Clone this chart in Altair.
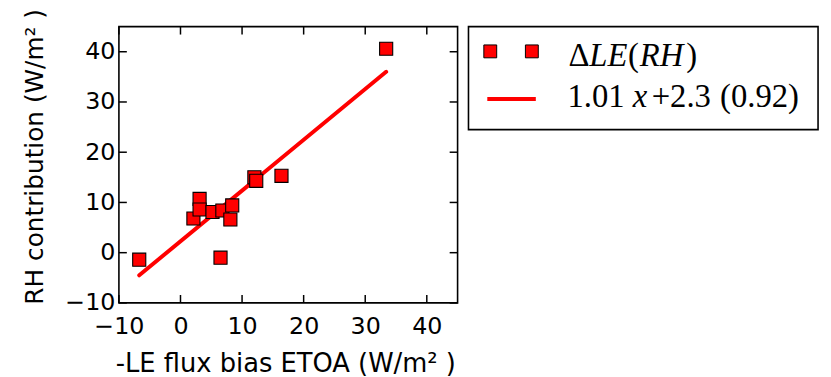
import altair as alt
import pandas as pd

# ---- data ----
x_vals = [-6.7, 33.4, 6.5, 2.1, 3.1, 3.1, 5.2, 6.8, 8.4, 8.1, 12.0, 12.3, 16.4]
y_vals = [-1.4, 40.6, -1.0, 6.8, 10.7, 8.6, 8.1, 8.4, 9.4, 6.6, 15.0, 14.3, 15.3]
fit_x = [-6.7, 33.4]
fit_y = [-4.5, 36.0]
x_ticks = [-10, 0, 10, 20, 30, 40]
y_ticks = [-10, 0, 10, 20, 30, 40]
x_title = "-LE flux bias ETOA (W/m\u00b2 )"
y_title = "RH contribution (W/m\u00b2 )"
legend_pieces_1 = ["\u0394", "LE", "(", "RH", ")"]
legend_pieces_2 = ["1.01", "x", "+2.3", "(0.92)"]

W, H = 342, 279
RED = "#ff0000"

pts = pd.DataFrame({"x": x_vals, "y": y_vals})
fit = pd.DataFrame({"x": fit_x, "y": fit_y})
xt = pd.DataFrame({"t": x_ticks})
yt = pd.DataFrame({"t": y_ticks})

xs = alt.Scale(domain=[-10, 45], nice=False, zero=False)
ys = alt.Scale(domain=[-10, 45], nice=False, zero=False)

x_axis = alt.Axis(values=x_ticks, title=x_title, grid=False, ticks=False, tickSize=0,
                  domain=False, labelFlush=False, labelFont="DejaVu Sans", labelFontSize=24,
                  labelColor="black", labelPadding=12, titleFont="DejaVu Sans",
                  titleFontSize=26, titleFontWeight="normal", titleColor="black",
                  titlePadding=12, titleX=168)
y_axis = alt.Axis(values=y_ticks, title=y_title, grid=False, ticks=False, tickSize=0,
                  domain=False, labelFlush=False, labelFont="DejaVu Sans", labelFontSize=24,
                  labelColor="black", labelPadding=4, titleFont="DejaVu Sans",
                  titleFontSize=25, titleFontWeight="normal", titleColor="black",
                  titlePadding=18, titleY=131)

line = alt.Chart(fit).mark_line(color=RED, strokeWidth=4, strokeCap="round").encode(
    x=alt.X("x:Q", scale=xs, axis=x_axis),
    y=alt.Y("y:Q", scale=ys, axis=y_axis),
)
points = alt.Chart(pts).mark_point(shape="square", filled=True, size=175, fill=RED,
                                   stroke="black", strokeWidth=1.1, opacity=1).encode(
    x=alt.X("x:Q", scale=xs), y=alt.Y("y:Q", scale=ys))

TL = 8
one = alt.Data(values=[{"a": 1}])

frame = alt.Chart(one).mark_rect(
    fill=None, filled=False, stroke="black", strokeWidth=1.6).encode(
    x=alt.value(0), x2=alt.value(W), y=alt.value(0), y2=alt.value(H))
tick_b = alt.Chart(xt).mark_rule(color="black", strokeWidth=1.5).encode(
    x=alt.X("t:Q", scale=xs), y=alt.value(H), y2=alt.value(H - TL))
tick_t = alt.Chart(xt).mark_rule(color="black", strokeWidth=1.5).encode(
    x=alt.X("t:Q", scale=xs), y=alt.value(0), y2=alt.value(TL))
tick_l = alt.Chart(yt).mark_rule(color="black", strokeWidth=1.5).encode(
    y=alt.Y("t:Q", scale=ys), x=alt.value(0), x2=alt.value(TL))
tick_r = alt.Chart(yt).mark_rule(color="black", strokeWidth=1.5).encode(
    y=alt.Y("t:Q", scale=ys), x=alt.value(W), x2=alt.value(W - TL))

leg_box = alt.Chart(one).mark_rect(fill="white", stroke="black", strokeWidth=1.6).encode(
    x=alt.value(353), x2=alt.value(706), y=alt.value(0), y2=alt.value(104))
leg_sq1 = alt.Chart(one).mark_point(shape="square", filled=True, size=169, fill=RED,
                                    stroke="black", strokeWidth=1, opacity=1).encode(
    x=alt.value(375), y=alt.value(25))
leg_sq2 = alt.Chart(one).mark_point(shape="square", filled=True, size=169, fill=RED,
                                    stroke="black", strokeWidth=1, opacity=1).encode(
    x=alt.value(417), y=alt.value(25))
leg_line = alt.Chart(one).mark_rule(color=RED, strokeWidth=4).encode(
    x=alt.value(372), x2=alt.value(421), y=alt.value(73))

italic_1 = [False, True, False, True, False]
xpos_1 = [454, 475, 514, 526, 573]
italic_2 = [False, True, False, False]
xpos_2 = [453, 519, 538, 607]

texts = []
for s, it, xp in zip(legend_pieces_1, italic_1, xpos_1):
    texts.append(alt.Chart(one).mark_text(text=s, font="Liberation Serif", fontSize=33,
                                          fontStyle="italic" if it else "normal",
                                          align="left", baseline="alphabetic", color="black")
                 .encode(x=alt.value(xp), y=alt.value(40)))
for s, it, xp in zip(legend_pieces_2, italic_2, xpos_2):
    texts.append(alt.Chart(one).mark_text(text=s, font="Liberation Serif", fontSize=33,
                                          fontStyle="italic" if it else "normal",
                                          align="left", baseline="alphabetic", color="black")
                 .encode(x=alt.value(xp), y=alt.value(81)))

chart = alt.layer(line, points, frame, tick_b, tick_t, tick_l, tick_r,
                  leg_box, leg_sq1, leg_sq2, leg_line, *texts).properties(
    width=W, height=H,
    autosize=alt.AutoSizeParams(type="none"),
    padding={"left": 112, "top": 17, "right": 369, "bottom": 73},
    background="white",
).configure_view(stroke=None)

chart.save("out.html", embed_options={"renderer": "svg", "actions": False})
